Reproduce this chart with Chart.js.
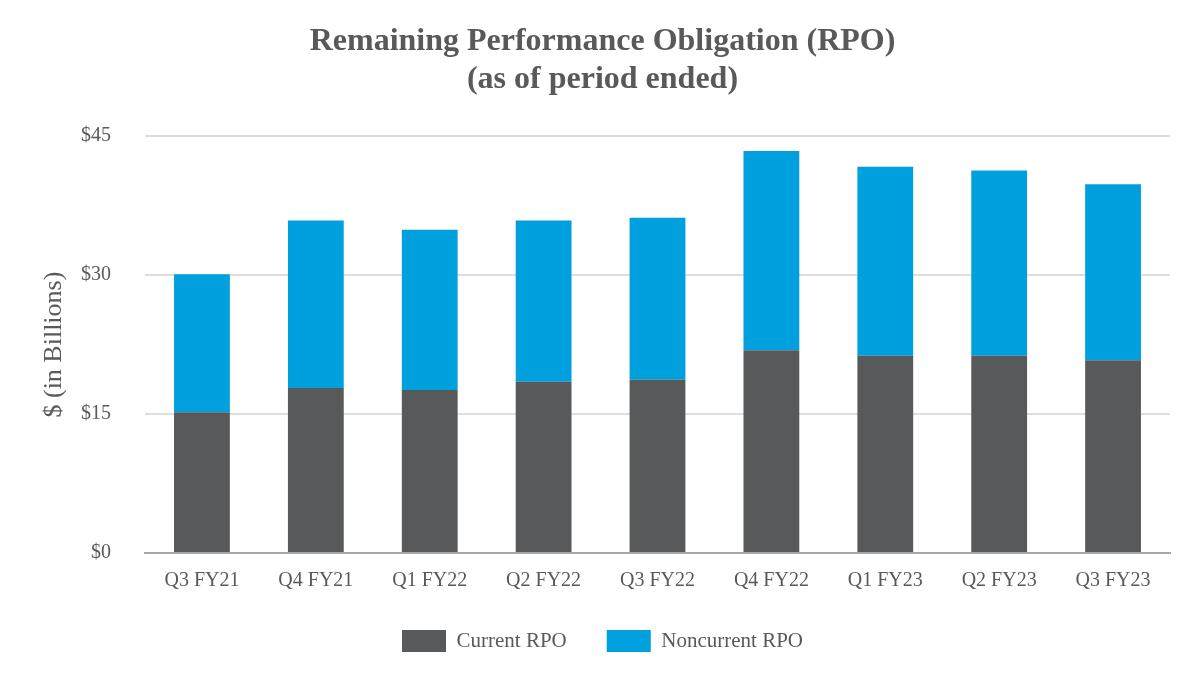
<!DOCTYPE html>
<html>
  <head>
    <title>Remaining Performance Obligation (RPO)</title>
    <script src="https://cdn.jsdelivr.net/npm/chart.js@4.4.0/dist/chart.umd.min.js"></script>
    <style>
      html, body { margin: 0; padding: 0; background: #ffffff; }
      #wrap { width: 1200px; height: 692px; }
    </style>
  </head>
  <body>
    <div id="wrap"><canvas id="rpoChart"></canvas></div>

    <script>
      // Datos (miles de millones de USD)
      const quarters = ["Q3 FY21", "Q4 FY21", "Q1 FY22", "Q2 FY22", "Q3 FY22", "Q4 FY22", "Q1 FY23", "Q2 FY23", "Q3 FY23"];
      const currentRpo = [15.2, 17.8, 17.6, 18.5, 18.7, 21.9, 21.3, 21.3, 20.8];
      const noncurrentRpo = [14.9, 18.1, 17.3, 17.4, 17.5, 21.5, 20.4, 20.0, 19.0];
      const yTicks = [0, 15, 30, 45];

      const grey = "#595959";
      const serif = "'Liberation Serif', 'Times New Roman', serif";

      const ctx = document.getElementById("rpoChart").getContext("2d");

      const chart = new Chart(ctx, {
        type: "bar",
        data: {
          labels: quarters,
          datasets: [
            {
              label: "Current RPO",
              data: currentRpo,
              backgroundColor: "#58595b",
              barPercentage: 0.49,
              categoryPercentage: 1
            },
            {
              label: "Noncurrent RPO",
              data: noncurrentRpo,
              backgroundColor: "#00a0df",
              barPercentage: 0.49,
              categoryPercentage: 1
            }
          ]
        },
        options: {
          responsive: true,
          maintainAspectRatio: false,
          animation: false,
          layout: { padding: { left: 35, right: 30, top: 14, bottom: 30 } },
          plugins: {
            title: {
              display: true,
              text: ["Remaining Performance Obligation (RPO)", "(as of period ended)"],
              color: grey,
              font: { family: serif, size: 32, weight: "bold", lineHeight: 1.19 },
              padding: { top: 9, bottom: 37 }
            },
            legend: {
              position: "bottom",
              labels: {
                color: grey,
                font: { family: serif, size: 21 },
                boxWidth: 44,
                boxHeight: 22,
                padding: 40
              }
            },
            tooltip: { enabled: false }
          },
          scales: {
            x: {
              stacked: true,
              grid: { display: false, drawTicks: false },
              border: { display: true, color: "#a6a6a6", width: 2 },
              ticks: { color: grey, font: { family: serif, size: 20 }, padding: 16 },
              afterFit: (axis) => { axis.height = 37; }
            },
            y: {
              stacked: true,
              min: 0,
              max: 45,
              afterBuildTicks: (axis) => { axis.ticks = yTicks.map(v => ({ value: v })); },
              afterFit: (axis) => { axis.width = 110; },
              grid: { color: "#dedede", lineWidth: 2, drawTicks: false },
              border: { display: false },
              ticks: {
                color: grey,
                font: { family: serif, size: 20 },
                padding: 34,
                callback: (v) => "$" + v
              },
              title: {
                display: true,
                text: "$ (in Billions)",
                color: grey,
                font: { family: serif, size: 26 },
                padding: { top: 4, bottom: 0 }
              }
            }
          }
        }
      });
    </script>
  </body>
</html>
